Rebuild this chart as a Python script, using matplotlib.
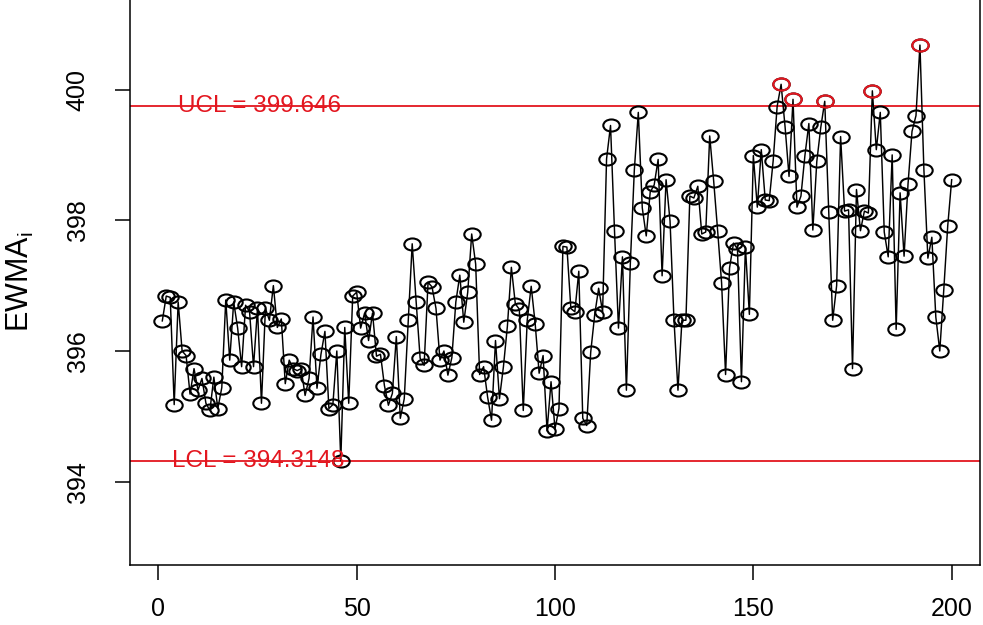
import numpy as np
import matplotlib
matplotlib.use("Agg")
import matplotlib.pyplot as plt
from matplotlib.path import Path
from matplotlib.transforms import Affine2D

plt.rcParams['font.family'] = ['Liberation Sans', 'DejaVu Sans']
plt.rcParams['mathtext.fontset'] = 'custom'
plt.rcParams['mathtext.rm'] = 'Liberation Sans'
plt.rcParams['mathtext.it'] = 'Liberation Sans'

ewma = [
    396.46, 396.84, 396.82, 395.18, 396.75, 396.00, 395.93, 395.34, 395.73, 395.40,
    395.58, 395.20, 395.09, 395.60, 395.12, 395.44, 396.78, 395.86, 396.75, 396.35,
    395.76, 396.70, 396.60, 395.76, 396.65, 395.20, 396.65, 396.47, 397.00, 396.36,
    396.49, 395.50, 395.86, 395.73, 395.70, 395.73, 395.32, 395.58, 396.52, 395.43,
    395.95, 396.30, 395.12, 395.18, 396.00, 394.32, 396.36, 395.20, 396.84, 396.90,
    396.35, 396.58, 396.16, 396.58, 395.92, 395.95, 395.47, 395.17, 395.35, 396.22,
    394.97, 395.27, 396.47, 397.64, 396.75, 395.89, 395.78, 397.05, 396.98, 396.65,
    395.86, 396.00, 395.63, 395.90, 396.75, 397.16, 396.44, 396.90, 397.79, 397.33,
    395.64, 395.76, 395.30, 394.94, 396.16, 395.27, 395.76, 396.38, 397.28, 396.72,
    396.64, 395.09, 396.47, 396.99, 396.42, 395.66, 395.93, 394.78, 395.53, 394.81,
    395.12, 397.60, 397.59, 396.65, 396.60, 397.22, 394.97, 394.86, 395.98, 396.55,
    396.96, 396.60, 398.94, 399.45, 397.84, 396.35, 397.44, 395.40, 397.35, 398.77,
    399.65, 398.19, 397.76, 398.43, 398.54, 398.93, 397.15, 398.62, 397.99, 396.47,
    395.40, 396.47, 396.47, 398.37, 398.34, 398.52, 397.79, 397.82, 399.29, 398.60,
    397.84, 397.04, 395.64, 397.27, 397.65, 397.56, 395.53, 397.59, 396.56, 398.99,
    398.20, 399.08, 398.31, 398.30, 398.91, 399.74, 400.08, 399.43, 398.67, 399.85,
    398.20, 398.37, 398.99, 399.48, 397.85, 398.90, 399.42, 399.82, 398.13, 396.47,
    397.00, 399.28, 398.14, 398.16, 395.73, 398.47, 397.84, 398.14, 398.11, 399.98,
    399.08, 399.65, 397.82, 397.44, 399.00, 396.33, 398.42, 397.45, 398.56, 399.36,
    399.60, 400.68, 398.77, 397.42, 397.74, 396.52, 396.00, 396.93, 397.91, 398.62,
]
index = list(range(1, len(ewma) + 1))
ucl_line = 399.745
lcl_line = 394.31
ucl_label = "UCL = 399.646"
lcl_label = "LCL = 394.3148"
xticks = [0, 50, 100, 150, 200]
yticks = [394, 396, 398, 400]

RED = '#E3161F'

fig = plt.figure(figsize=(9.83, 6.25), dpi=100)
ax = fig.add_axes([130/983, 60/625, 850/983, 567/625])

ell = Path.unit_circle().transformed(Affine2D().scale(1.36, 1.0))

x = np.array(index)
y = np.array(ewma)
ax.plot(x, y, color='black', lw=1.05, zorder=3)
ax.plot(x, y, linestyle='none', marker=ell, markersize=11.8, mfc='none',
        mec='black', mew=1.5, zorder=4)
out = y > ucl_line
ax.plot(x[out], y[out], linestyle='none', marker=ell, markersize=11.8, mfc='none',
        mec=RED, mew=1.5, zorder=5)

ax.axhline(ucl_line, color=RED, lw=1.3, zorder=2)
ax.axhline(lcl_line, color=RED, lw=1.3, zorder=2)
ax.text(25.6, ucl_line, ucl_label, color=RED, fontsize=17.5, ha='center', va='center', zorder=6)
ax.text(25.2, lcl_line, lcl_label, color=RED, fontsize=17.5, ha='center', va='center', zorder=6)

ax.set_xlim(-7.14, 207.14)
ax.set_ylim(392.726, 401.40)
ax.set_xticks(xticks)
ax.set_yticks(yticks)
ax.tick_params(axis='both', direction='out', length=11, width=1.1, labelsize=18, color='black')
ax.tick_params(axis='x', pad=12)
ax.tick_params(axis='y', pad=18)
for lab in ax.get_yticklabels():
    lab.set_rotation(90)
    lab.set_va('center')
for s in ax.spines.values():
    s.set_linewidth(1.1)

fig.text(20/983, 1 - 282/625, r'$\mathrm{EWMA}_\mathrm{i}$', rotation=90,
         fontsize=22, ha='center', va='center')

fig.savefig('out.png', dpi=100)
